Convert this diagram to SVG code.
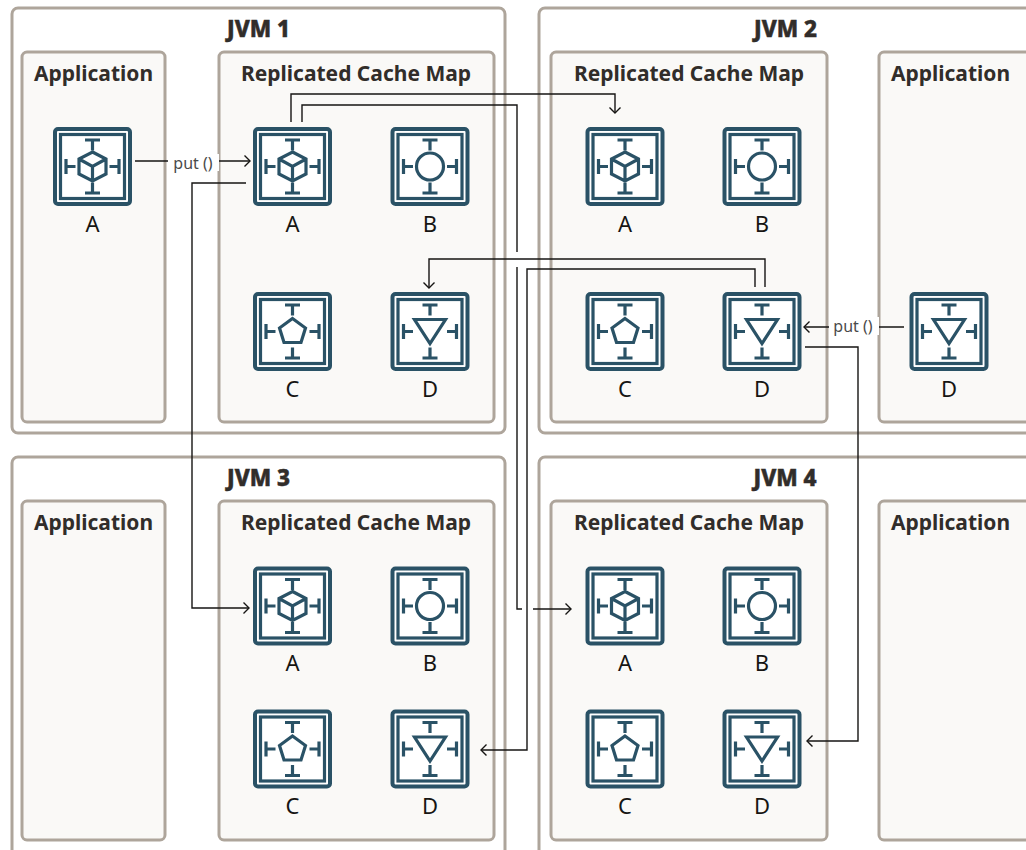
<svg xmlns="http://www.w3.org/2000/svg" width="1026" height="850" viewBox="0 0 1026 850">
<style>
.jvm{fill:#fff;stroke:#aea59b;stroke-width:3}
.panel{fill:#faf9f7;stroke:#aea59b;stroke-width:3}
.t{font-family:"Noto Sans","Open Sans",sans-serif;text-anchor:middle}
.title{font-size:21px;font-weight:700;fill:#312d2a}
.jt{font-size:22.500px;font-weight:800;fill:#312d2a;stroke:#312d2a;stroke-width:.5px}
.lab{font-size:22px;fill:#161513}
.put{font-size:16px;fill:#4a4a4a}
.ln{fill:none;stroke:#161513;stroke-width:1.4}
.ic{fill:none;stroke:#2a5266;stroke-width:3.200}
.box{fill:#fff}
</style>
<defs>
<marker id="arr" markerUnits="userSpaceOnUse" markerWidth="12" markerHeight="14" refX="10" refY="7" orient="auto"><path d="M4.500 1.500L10 7L4.500 12.500" fill="none" stroke="#161513" stroke-width="1.400"/></marker>
<g id="frame">
<rect x="-37.500" y="-37.500" width="75" height="75" rx="3" fill="#fff" stroke="#2a5266" stroke-width="4"/>
<rect x="-32" y="-32" width="64" height="64" fill="none" stroke="#2a5266" stroke-width="3.200"/>
<path class="ic" d="M-7.500-26.500H7.500M0-26.500V-16M-7.500 26.500H7.500M0 26.500V16M-26.500-7.500V7.500M-26.500 0H-17M26.500-7.500V7.500M26.500 0H17"/>
</g>
<g id="cube"><use href="#frame"/><path class="ic" d="M0-14.500L13.500-7.500V7.500L0 14.500L-13.500 7.500V-7.500ZM-13.500-7.500L0 0L13.500-7.500M0 0V14.500"/></g>
<g id="circle"><use href="#frame"/><circle class="ic" r="13.500"/></g>
<g id="penta"><use href="#frame"/><path class="ic" d="M0-13L13-3.500L8.500 11H-8.500L-13-3.500Z"/></g>
<g id="tri"><use href="#frame"/><path class="ic" d="M-15.500-12H15.500L0 12Z"/></g>
</defs>

<g id="jvm1"><rect class="jvm" x="12" y="8" width="493" height="425" rx="6"/><text class="t jt" x="258.500" y="37">JVM 1</text></g>
<g id="jvm2"><rect class="jvm" x="539" y="8" width="510" height="425" rx="6"/><text class="t jt" x="785.500" y="37">JVM 2</text></g>
<g id="jvm3"><rect class="jvm" x="12" y="457" width="493" height="410" rx="6"/><text class="t jt" x="258.500" y="486">JVM 3</text></g>
<g id="jvm4"><rect class="jvm" x="539" y="457" width="510" height="410" rx="6"/><text class="t jt" x="785" y="486">JVM 4</text></g>

<g id="app1"><rect class="panel" x="22" y="52" width="143" height="370" rx="5"/><text class="t title" x="93.500" y="81">Application</text></g>
<g id="map1"><rect class="panel" x="219" y="52" width="275" height="370" rx="5"/><text class="t title" x="356" y="81">Replicated Cache Map</text></g>
<g id="map2"><rect class="panel" x="551" y="52" width="276" height="370" rx="5"/><text class="t title" x="689" y="81">Replicated Cache Map</text></g>
<g id="app2"><rect class="panel" x="879" y="52" width="160" height="370" rx="5"/><text class="t title" x="950.500" y="81">Application</text></g>
<g id="app3"><rect class="panel" x="22" y="501" width="143" height="339" rx="5"/><text class="t title" x="93.500" y="530">Application</text></g>
<g id="map3"><rect class="panel" x="219" y="501" width="275" height="339" rx="5"/><text class="t title" x="356" y="530">Replicated Cache Map</text></g>
<g id="map4"><rect class="panel" x="551" y="501" width="276" height="339" rx="5"/><text class="t title" x="689" y="530">Replicated Cache Map</text></g>
<g id="app4"><rect class="panel" x="879" y="501" width="160" height="339" rx="5"/><text class="t title" x="950.500" y="530">Application</text></g>

<g id="n-app1-a"><use href="#cube" x="92.500" y="166.500"/><text class="t lab" x="92.500" y="232">A</text></g>
<g id="n1-a"><use href="#cube" x="292.500" y="166.500"/><text class="t lab" x="292.500" y="232">A</text></g>
<g id="n1-b"><use href="#circle" x="430" y="166.500"/><text class="t lab" x="430" y="232">B</text></g>
<g id="n1-c"><use href="#penta" x="292.500" y="331.500"/><text class="t lab" x="292.500" y="397">C</text></g>
<g id="n1-d"><use href="#tri" x="430" y="331.500"/><text class="t lab" x="430" y="397">D</text></g>
<g id="n2-a"><use href="#cube" x="625" y="166.500"/><text class="t lab" x="625" y="232">A</text></g>
<g id="n2-b"><use href="#circle" x="762" y="166.500"/><text class="t lab" x="762" y="232">B</text></g>
<g id="n2-c"><use href="#penta" x="625" y="331.500"/><text class="t lab" x="625" y="397">C</text></g>
<g id="n2-d"><use href="#tri" x="762" y="331.500"/><text class="t lab" x="762" y="397">D</text></g>
<g id="n-app2-d"><use href="#tri" x="949" y="331.500"/><text class="t lab" x="949" y="397">D</text></g>
<g id="n3-a"><use href="#cube" x="292.500" y="606"/><text class="t lab" x="292.500" y="671">A</text></g>
<g id="n3-b"><use href="#circle" x="430" y="606"/><text class="t lab" x="430" y="671">B</text></g>
<g id="n3-c"><use href="#penta" x="292.500" y="749"/><text class="t lab" x="292.500" y="814">C</text></g>
<g id="n3-d"><use href="#tri" x="430" y="749"/><text class="t lab" x="430" y="814">D</text></g>
<g id="n4-a"><use href="#cube" x="625" y="606"/><text class="t lab" x="625" y="671">A</text></g>
<g id="n4-b"><use href="#circle" x="762" y="606"/><text class="t lab" x="762" y="671">B</text></g>
<g id="n4-c"><use href="#penta" x="625" y="749"/><text class="t lab" x="625" y="814">C</text></g>
<g id="n4-d"><use href="#tri" x="762" y="749"/><text class="t lab" x="762" y="814">D</text></g>

<g id="connectors">
<path class="ln" marker-end="url(#arr)" d="M135 161H250"/>
<rect class="box" x="168" y="154" width="51" height="17"/>
<text class="t put" x="193" y="169">put ()</text>
<path class="ln" marker-end="url(#arr)" d="M291 122V94H615V113"/>
<path class="ln" d="M302 122V105H517V252M517 267V609H522"/>
<path class="ln" marker-end="url(#arr)" d="M533 609H571"/>
<path class="ln" marker-end="url(#arr)" d="M246 183H192V608H249"/>
<path class="ln" marker-end="url(#arr)" d="M765 287V259H429V288"/>
<path class="ln" marker-end="url(#arr)" d="M755 287V269H527V750H481"/>
<path class="ln" marker-end="url(#arr)" d="M904 327H804"/>
<rect class="box" x="829" y="317" width="50" height="18"/>
<text class="t put" x="853" y="332">put ()</text>
<path class="ln" marker-end="url(#arr)" d="M805 347H858V741H807"/>
</g>
</svg>
